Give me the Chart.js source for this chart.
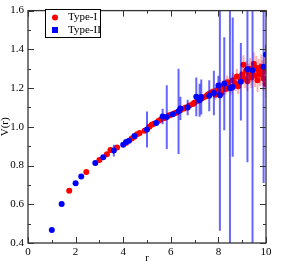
<!DOCTYPE html>
<html lang="en">
  <head>
    <meta charset="UTF-8" />
    <title>V(r)</title>
    <script src="https://cdn.jsdelivr.net/npm/chart.js@4"></script>
    <style>
      html, body { margin: 0; padding: 0; background: #fff; }
      #wrap { width: 307px; height: 265px; }
    </style>
  </head>
  <body>
    <div id="wrap"><canvas id="vr" width="307" height="265"></canvas></div>
    <script>
      // Type-I
      const redR = [1.732, 2.449, 3.0, 3.317, 3.464, 3.742, 4.123, 4.359, 4.472, 4.583,
        4.690, 4.899, 5.099, 5.196, 5.292, 5.477, 5.568, 5.745, 5.916, 6.0,
        6.164, 6.245, 6.403, 6.557, 6.633, 6.782, 6.928, 7.0, 7.141, 7.28,
        7.348, 7.483, 7.55, 7.616, 7.746, 7.874, 7.937, 8.062, 8.124, 8.185,
        8.307, 8.367, 8.426, 8.544, 8.602, 8.718, 8.775, 8.832, 8.944, 9.0,
        9.055, 9.11, 9.165, 9.22, 9.274, 9.327, 9.381, 9.434, 9.487, 9.539,
        9.592, 9.644, 9.695, 9.747, 9.798, 9.849, 9.899, 9.95, 10.0, 10.05, 10.05];
      const redV = [0.670, 0.767, 0.829, 0.858, 0.880, 0.893, 0.918, 0.940, 0.948, 0.962,
        0.968, 0.980, 1.000, 1.010, 1.016, 1.030, 1.037, 1.046, 1.058, 1.062,
        1.070, 1.074, 1.085, 1.095, 1.100, 1.110, 1.118, 1.125, 1.135, 1.146,
        1.150, 1.158, 1.165, 1.170, 1.180, 1.165, 1.190, 1.200, 1.175, 1.210,
        1.195, 1.230, 1.215, 1.200, 1.240, 1.225, 1.260, 1.210, 1.245, 1.270,
        1.320, 1.250, 1.290, 1.235, 1.275, 1.300, 1.255, 1.285, 1.325, 1.265,
        1.305, 1.240, 1.290, 1.270, 1.310, 1.280, 1.250, 1.295, 1.220, 1.410, 1.280];
      const redErr = [0.002, 0.002, 0.003, 0.003, 0.003, 0.004, 0.004, 0.005, 0.005, 0.005,
        0.006, 0.006, 0.006, 0.007, 0.007, 0.007, 0.008, 0.008, 0.009, 0.009,
        0.01, 0.01, 0.011, 0.011, 0.012, 0.012, 0.013, 0.014, 0.015, 0.016,
        0.016, 0.017, 0.018, 0.02, 0.02, 0.025, 0.025, 0.03, 0.03, 0.03,
        0.03, 0.035, 0.035, 0.035, 0.04, 0.04, 0.04, 0.04, 0.045, 0.045,
        0.05, 0.05, 0.05, 0.05, 0.05, 0.055, 0.055, 0.055, 0.06, 0.06,
        0.06, 0.06, 0.06, 0.06, 0.065, 0.065, 0.065, 0.07, 0.07, 0.07, 0.07];

      // Type-II
      const blueR = [1.0, 1.414, 2.0, 2.236, 2.828, 3.162, 3.606, 4.0, 4.123, 4.243,
        4.472, 5.0, 5.385, 5.657, 5.831, 6.083, 6.325, 6.403, 6.708, 7.071,
        7.211, 7.28, 7.616, 7.81, 8.0, 8.062, 8.246, 8.485, 8.602, 8.944,
        9.22, 9.434, 9.899, 10.0];
      const blueV = [0.467, 0.602, 0.708, 0.743, 0.813, 0.843, 0.877, 0.907, 0.922, 0.928,
        0.952, 0.986, 1.020, 1.053, 1.050, 1.065, 1.080, 1.095, 1.100, 1.155,
        1.137, 1.154, 1.160, 1.175, 1.213, 1.163, 1.222, 1.200, 1.205, 1.233,
        1.297, 1.292, 1.310, 1.373];
      const blueErr = [0.002, 0.002, 0.003, 0.003, 0.004, 0.004, 0.03, 0.005, 0.006, 0.006,
        0.008, 0.093, 0.01, 0.04, 0.165, 0.012, 0.22, 0.06, 0.04, 0.1,
        0.085, 0.09, 0.08, 0.115, 0.05, 0.70, 0.24, 0.90, 0.36, 0.20,
        0.48, 1.0, 0.6, 0.05];

      const xTicks = [0, 2, 4, 6, 8, 10];
      const yTicks = [0.4, 0.6, 0.8, 1.0, 1.2, 1.4, 1.6];

      const serif = "'Liberation Serif', 'DejaVu Serif', serif";

      function toPoints(xs, ys) {
        return xs.map((x, i) => ({ x: x, y: ys[i] }));
      }

      // error bars drawn just before the dataset they belong to
      const errorBars = {
        id: "errorBars",
        beforeDatasetDraw(chart, args) {
          const ds = chart.data.datasets[args.index];
          const xs = chart.scales.x, ys = chart.scales.y;
          const a = chart.chartArea;
          const ctx = chart.ctx;
          ctx.save();
          ctx.beginPath();
          ctx.rect(a.left, a.top, a.right - a.left, a.bottom - a.top);
          ctx.clip();
          ctx.strokeStyle = ds.errColor;
          ctx.lineWidth = 2;
          ds.errs.forEach((e, i) => {
            const p = ds.data[i];
            const px = xs.getPixelForValue(p.x);
            ctx.beginPath();
            ctx.moveTo(px, ys.getPixelForValue(p.y - e));
            ctx.lineTo(px, ys.getPixelForValue(p.y + e));
            ctx.stroke();
          });
          ctx.restore();
        }
      };

      // frame, inward ticks on all four sides, axis titles and legend box
      const frame = {
        id: "frame",
        afterDraw(chart) {
          const ctx = chart.ctx;
          const a = chart.chartArea;
          const xs = chart.scales.x, ys = chart.scales.y;
          ctx.save();
          ctx.strokeStyle = "#333";
          ctx.lineWidth = 1.3;
          ctx.strokeRect(a.left, a.top, a.right - a.left, a.bottom - a.top);
          ctx.lineWidth = 1;
          for (let i = 0; i <= 10; i++) {
            const len = i % 2 === 0 ? 6 : 3;
            const px = Math.round(xs.getPixelForValue(i)) + 0.5;
            ctx.beginPath();
            ctx.moveTo(px, a.bottom);
            ctx.lineTo(px, a.bottom - len);
            ctx.moveTo(px, a.top);
            ctx.lineTo(px, a.top + len);
            ctx.stroke();
          }
          for (let i = 4; i <= 16; i++) {
            const len = i % 2 === 0 ? 6 : 3;
            const py = Math.round(ys.getPixelForValue(i / 10)) + 0.5;
            ctx.beginPath();
            ctx.moveTo(a.left, py);
            ctx.lineTo(a.left + len, py);
            ctx.moveTo(a.right, py);
            ctx.lineTo(a.right - len, py);
            ctx.stroke();
          }

          // axis titles
          ctx.fillStyle = "#000";
          ctx.font = "11px " + serif;
          ctx.textAlign = "center";
          ctx.textBaseline = "middle";
          ctx.fillText("r", (a.left + a.right) / 2, 258);
          ctx.save();
          ctx.translate(5, (a.top + a.bottom) / 2);
          ctx.rotate(-Math.PI / 2);
          ctx.fillText("V(r)", 0, 0);
          ctx.restore();

          // legend
          const lx = 45, ly = 9, lw = 55, lh = 28;
          ctx.fillStyle = "#fff";
          ctx.fillRect(lx, ly, lw, lh);
          ctx.strokeStyle = "#000";
          ctx.lineWidth = 1;
          ctx.strokeRect(lx + 0.5, ly + 0.5, lw, lh);
          ctx.fillStyle = "#ff0000";
          ctx.beginPath();
          ctx.arc(lx + 10, ly + 8.5, 3, 0, Math.PI * 2);
          ctx.fill();
          ctx.fillStyle = "#0000ff";
          ctx.fillRect(lx + 7, ly + 18, 6, 6);
          ctx.fillStyle = "#000";
          ctx.textAlign = "left";
          ctx.fillText("Type-I", lx + 23, ly + 8.5);
          ctx.fillText("Type-II", lx + 23, ly + 21);
          ctx.restore();
        }
      };

      new Chart(document.getElementById("vr"), {
        type: "scatter",
        data: {
          datasets: [
            {
              label: "Type-II",
              data: toPoints(blueR, blueV),
              errs: blueErr,
              errColor: "rgba(0, 0, 255, 0.6)",
              backgroundColor: "#0000ff",
              borderWidth: 0,
              pointRadius: 3
            },
            {
              label: "Type-I",
              data: toPoints(redR, redV),
              errs: redErr,
              errColor: "rgba(255, 0, 0, 0.3)",
              backgroundColor: "#ff0000",
              borderWidth: 0,
              pointRadius: 3
            }
          ]
        },
        options: {
          responsive: false,
          animation: false,
          events: [],
          layout: { padding: { top: 5, right: 41, left: 0, bottom: 0 } },
          plugins: { legend: { display: false }, tooltip: { enabled: false } },
          scales: {
            x: {
              type: "linear",
              min: 0,
              max: 10,
              afterBuildTicks: (s) => { s.ticks = xTicks.map(v => ({ value: v })); },
              afterFit: (s) => { s.height = 22; },
              grid: { display: false, drawTicks: false },
              border: { display: false },
              ticks: { color: "#000", padding: 3, maxRotation: 0, font: { family: serif, size: 11 } }
            },
            y: {
              type: "linear",
              min: 0.4,
              max: 1.6,
              afterBuildTicks: (s) => { s.ticks = yTicks.map(v => ({ value: v })); },
              afterFit: (s) => { s.width = 28; },
              grid: { display: false, drawTicks: false },
              border: { display: false },
              ticks: { color: "#000", padding: 4, font: { family: serif, size: 11 } }
            }
          }
        },
        plugins: [errorBars, frame]
      });
    </script>
  </body>
</html>
